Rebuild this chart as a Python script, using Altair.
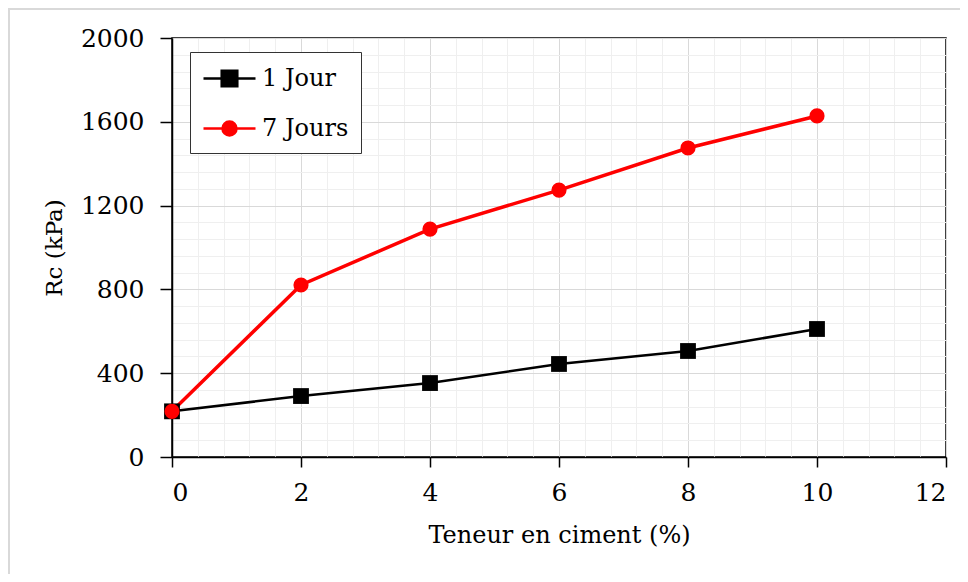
import altair as alt
import pandas as pd

# ---- data ----
cement = [0, 2, 4, 6, 8, 10]
rc_1jour = [218, 291, 353, 444, 506, 611]
rc_7jours = [218, 821, 1088, 1274, 1475, 1628]
series_names = ["1 Jour", "7 Jours"]
series_colors = ["#000000", "#FF0000"]
x_ticks = [0, 2, 4, 6, 8, 10, 12]
y_ticks = [0, 400, 800, 1200, 1600, 2000]
x_minor = [round(0.4 * i, 1) for i in range(31) if i % 5 != 0]
y_minor = [80 * i for i in range(26) if i % 5 != 0]

df = pd.DataFrame({
    "x": cement * 2,
    "y": rc_1jour + rc_7jours,
    "s": [series_names[0]] * len(cement) + [series_names[1]] * len(cement),
})

FONT = "DejaVu Serif"
xs = alt.Scale(domain=[0, 12], nice=False, zero=False)
ys = alt.Scale(domain=[0, 2000], nice=False, zero=False)

# legend glyphs: a line with the marker in its middle
sq_path = "M-2,0H2M-0.6,-0.6H0.6V0.6H-0.6Z"
ci_path = "M-2,0H2M0.54,0A0.54,0.54,0,1,1,-0.54,0A0.54,0.54,0,1,1,0.54,0Z"

base = alt.Chart(df)

minor = base.mark_point(opacity=0).encode(
    x=alt.X("x:Q", scale=xs, axis=alt.Axis(values=x_minor, orient="top", grid=True,
            gridColor="#efefef", gridWidth=1, labels=False, ticks=False, domain=False, title=None)),
    y=alt.Y("y:Q", scale=ys, axis=alt.Axis(values=y_minor, orient="right", grid=True,
            gridColor="#efefef", gridWidth=1, labels=False, ticks=False, domain=False, title=None)),
)

major = base.mark_point(opacity=0).encode(
    x=alt.X("x:Q", scale=xs, title="Teneur en ciment (%)",
            axis=alt.Axis(values=x_ticks, orient="bottom", grid=True, gridColor="#d9d9d9",
                          gridWidth=1, tickSize=10, tickColor="black", tickWidth=1.5,
                          domainColor="black", domainWidth=1.5, labelFont=FONT, format="d",
                          labelFontSize=25, labelColor="black", labelPadding=13,
                          titleFont=FONT, titleFontSize=24, titleFontWeight="normal",
                          titleColor="black", titlePadding=18)),
    y=alt.Y("y:Q", scale=ys, title="Rc (kPa)",
            axis=alt.Axis(values=y_ticks, orient="left", grid=True, gridColor="#d9d9d9",
                          gridWidth=1, tickSize=12, tickColor="black", tickWidth=1.5,
                          domainColor="black", domainWidth=1.5, labelFont=FONT, format="d",
                          labelFontSize=25, labelColor="black", labelPadding=16,
                          titleFont=FONT, titleFontSize=23, titleFontWeight="normal",
                          titleColor="black", titlePadding=14)),
)

def series_line(i, width):
    return base.mark_line(color=series_colors[i], strokeWidth=width).encode(
        x=alt.X("x:Q", scale=xs, axis=None),
        y=alt.Y("y:Q", scale=ys, axis=None),
    ).transform_filter(alt.datum.s == series_names[i])

def series_points(i, shape, size):
    return base.mark_point(shape=shape, filled=True, size=size, opacity=1,
                           color=series_colors[i]).encode(
        x=alt.X("x:Q", scale=xs, axis=None),
        y=alt.Y("y:Q", scale=ys, axis=None),
    ).transform_filter(alt.datum.s == series_names[i])

line1 = series_line(0, 2.5)
line7 = series_line(1, 3.5)
squares = series_points(0, "square", 250)
circles = series_points(1, "circle", 230)

leg = alt.Legend(orient="none", legendX=18, legendY=14, strokeColor="#333333",
                 fillColor="white", padding=12, rowPadding=22, labelFont=FONT,
                 labelFontSize=24, labelColor="black", symbolSize=676,
                 symbolStrokeWidth=2.5, symbolOffset=13, labelOffset=18, symbolOpacity=1)

# legend-only layer: its points sit outside the x domain and are clipped away
legend_layer = base.mark_point(filled=True, size=676, strokeWidth=2.5, opacity=1, clip=True).encode(
    x=alt.X("xo:Q", scale=xs, axis=None),
    y=alt.Y("y:Q", scale=ys, axis=None),
    shape=alt.Shape("s:N", title=None, scale=alt.Scale(domain=series_names, range=[sq_path, ci_path]), legend=leg),
    fill=alt.Fill("s:N", title=None, scale=alt.Scale(domain=series_names, range=series_colors), legend=leg),
    stroke=alt.Stroke("s:N", title=None, scale=alt.Scale(domain=series_names, range=series_colors), legend=leg),
).transform_calculate(xo="-100")

frame = alt.Chart(pd.DataFrame({"a": [0]})).mark_rect(
    fill="transparent", stroke="#d9d9d9", strokeWidth=2, clip=False
).encode(
    x=alt.value(-163), x2=alt.value(800), y=alt.value(-29), y2=alt.value(600)
)

chart = alt.layer(minor, major, line1, line7, squares, circles, legend_layer, frame).resolve_axis(
    x="independent", y="independent"
).properties(
    width=774, height=419,
    autosize=alt.AutoSizeParams(type="none"),
    padding={"left": 164, "top": 30, "right": 14, "bottom": 117},
    background="white",
).configure_view(stroke="black", strokeWidth=1.5)

chart.save("out.html", embed_options={"renderer": "svg", "actions": False})
